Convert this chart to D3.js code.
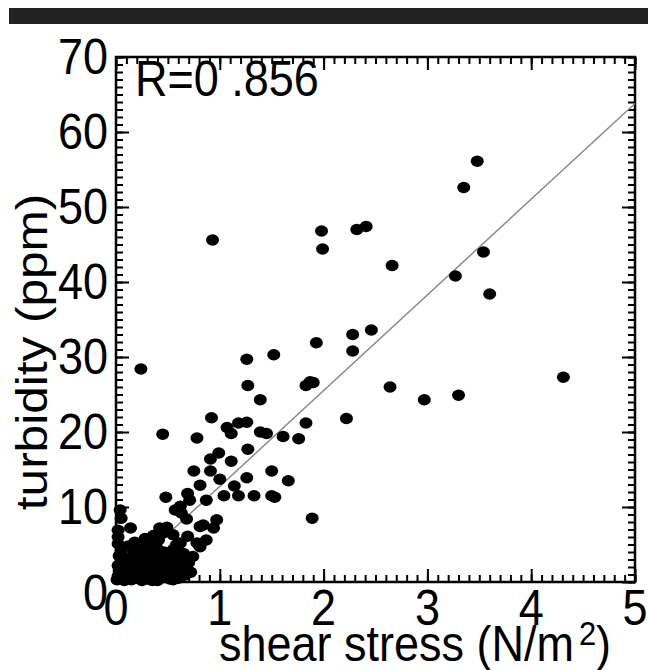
<!DOCTYPE html>
<html>
<head>
<meta charset="utf-8">
<script src="https://cdn.jsdelivr.net/npm/d3@7"></script>
<style>
  body { margin: 0; background: #fff; }
  svg text { font-family: "Liberation Sans", Arial, Helvetica, sans-serif; fill: #000; }
</style>
</head>
<body>
<div id="chart"></div>
<script>
// shear stress (N/m2) vs turbidity (ppm)
const shearStress = [
  3.48, 3.35, 2.32, 2.41, 1.98, 1.99, 0.93, 2.66, 3.54, 3.27, 3.60, 2.28, 2.28, 2.46,
  2.64, 2.97, 3.30, 4.31, 2.22, 0.24, 1.26, 1.52, 1.27, 1.39, 1.93, 1.87, 1.83, 1.90,
  0.92, 1.07, 1.11, 1.18, 1.26, 1.39, 1.45, 1.61, 1.76, 1.83, 0.45, 0.78, 1.27, 0.99,
  0.91, 1.11, 0.75, 0.91, 0.81, 1.00, 1.26, 1.50, 1.66, 1.14, 0.48, 0.69, 0.71, 0.87,
  1.04, 1.18, 1.33, 1.50, 1.53, 0.62, 0.57, 0.63, 0.68, 1.89, 0.97, 0.94, 0.81, 0.84,
  0.42, 0.49, 0.14, 0.04, 0.05, 0.02, 0.02, 0.55, 0.62, 0.69, 0.78, 0.87, 0.81, 0.74,
  0.58, 0.62,
  // dense cluster near the origin
  0.01, 0.02, 0.03, 0.02, 0.04, 0.05, 0.06, 0.03, 0.05, 0.02, 0.08, 0.09, 0.10, 0.08,
  0.11, 0.12, 0.13, 0.14, 0.15, 0.16, 0.17, 0.18, 0.19, 0.20, 0.21, 0.22, 0.23, 0.24,
  0.25, 0.26, 0.27, 0.28, 0.29, 0.30, 0.31, 0.32, 0.33, 0.34, 0.35, 0.36, 0.37, 0.38,
  0.39, 0.40, 0.41, 0.42, 0.43, 0.44, 0.45, 0.46, 0.47, 0.48, 0.49, 0.50, 0.51, 0.52,
  0.53, 0.55, 0.56, 0.58, 0.57, 0.60, 0.62, 0.63, 0.65, 0.68, 0.70, 0.18, 0.28, 0.36,
  0.45, 0.12, 0.40, 0.25, 0.55, 0.60, 0.66, 0.72, 0.52, 0.35
];
const turbidity = [
  56.1, 52.6, 47.0, 47.4, 46.8, 44.4, 45.6, 42.2, 44.0, 40.8, 38.4, 33.0, 30.8, 33.6,
  26.0, 24.3, 24.9, 27.3, 21.8, 28.4, 29.7, 30.3, 26.2, 24.3, 31.9, 26.7, 26.2, 26.6,
  21.9, 20.6, 19.8, 21.2, 21.3, 20.0, 19.8, 19.4, 19.1, 21.2, 19.7, 19.2, 17.7, 17.2,
  16.4, 16.1, 14.8, 14.8, 12.9, 13.7, 13.9, 14.8, 13.5, 12.8, 11.3, 11.8, 10.9, 10.9,
  11.5, 11.5, 11.5, 11.5, 11.3, 10.1, 9.6, 9.2, 8.4, 8.5, 8.3, 7.2, 7.4, 7.6,
  7.2, 7.3, 7.2, 9.6, 8.5, 6.9, 6.0, 6.3, 5.2, 6.1, 5.2, 5.6, 4.7, 3.4,
  2.9, 2.0,
  0.3, 0.8, 1.5, 2.2, 0.5, 1.1, 2.8, 3.5, 4.2, 5.1, 0.2, 1.0, 1.8, 2.5,
  3.2, 0.6, 1.4, 2.1, 0.3, 2.9, 4.3, 1.0, 1.7, 3.6, 0.5, 2.4, 1.2, 4.0,
  3.0, 4.7, 0.8, 1.9, 2.7, 0.4, 3.4, 1.4, 4.9, 2.2, 0.9, 3.9, 2.9, 1.6,
  0.5, 4.4, 5.6, 2.4, 3.3, 1.1, 2.0, 4.0, 0.6, 3.0, 6.9, 1.5, 2.6, 3.4,
  0.9, 4.3, 2.0, 4.9, 1.2, 3.0, 2.1, 0.8, 3.8, 1.6, 2.6, 5.3, 5.8, 6.2,
  6.5, 4.8, 0.2, 0.2, 0.3, 0.5, 0.9, 1.3, 0.4, 0.2
];
const xTicks = [0, 1, 2, 3, 4, 5];
const yTicks = [0, 10, 20, 30, 40, 50, 60, 70];
const fitSlope = 12.76;   // regression line through the origin
const rLabel = "R=0 .856";

const W = 648, H = 670;
const margin = { top: 57, right: 13, bottom: 88, left: 116 };
const width = W - margin.left - margin.right,
  height = H - margin.top - margin.bottom;
const fs = 45;          // label font size
const stretch = 1.1;    // the lettering in the figure is drawn a little tall

const root = d3.select("#chart").append("svg")
  .attr("width", W).attr("height", H);

// dark band at the top of the figure
root.append("rect")
  .attr("x", 9).attr("y", 8).attr("width", W - 9).attr("height", 16)
  .attr("fill", "#222");

const svg = root.append("g")
  .attr("transform", `translate(${margin.left},${margin.top})`);

const x = d3.scaleLinear().domain([0, 5]).range([0, width]);
const y = d3.scaleLinear().domain([0, 70]).range([height, 0]);

const minorX = d3.range(0, 5.0001, 0.1);
const minorY = d3.range(0, 70.0001, 1);

function drawAxis(gen, transform, ticks, size) {
  const g = svg.append("g")
    .attr("transform", transform)
    .call(gen.tickValues(ticks).tickSize(size).tickSizeOuter(0));
  g.select(".domain").remove();
  g.selectAll(".tick line").attr("stroke", "#000").attr("stroke-width", 2);
  g.selectAll(".tick text").remove();
  return g;
}

// ticks point inward on all four sides
drawAxis(d3.axisBottom(x), `translate(0,${height})`, minorX, -7);
drawAxis(d3.axisTop(x), "translate(0,0)", minorX, -7);
drawAxis(d3.axisLeft(y), "translate(0,0)", minorY, -7);
drawAxis(d3.axisRight(y), `translate(${width},0)`, minorY, -7);
drawAxis(d3.axisTop(x), "translate(0,0)", xTicks, -13);
drawAxis(d3.axisRight(y), `translate(${width},0)`, yTicks, -13);
drawAxis(d3.axisBottom(x), `translate(0,${height})`, xTicks, -13);
drawAxis(d3.axisLeft(y), "translate(0,0)", yTicks, -13);

// tick labels
svg.selectAll("text.xlab")
  .data(xTicks)
  .enter()
  .append("text")
  .attr("class", "xlab")
  .attr("text-anchor", "middle")
  .attr("transform", (d) => `translate(${x(d)},${height + 43}) scale(1,${stretch})`)
  .style("font-size", fs + "px")
  .text((d) => d);

svg.selectAll("text.ylab")
  .data(yTicks)
  .enter()
  .append("text")
  .attr("class", "ylab")
  .attr("text-anchor", "end")
  .attr("transform", (d) => `translate(-8,${y(d) + (d === 0 ? 28 : 17)}) scale(1,${stretch})`)
  .style("font-size", fs + "px")
  .text((d) => d);

svg.append("rect")
  .attr("width", width).attr("height", height)
  .attr("fill", "none").attr("stroke", "#000").attr("stroke-width", 2.5);

// fit line
svg.append("line")
  .attr("x1", x(0)).attr("y1", y(0))
  .attr("x2", x(5)).attr("y2", y(5 * fitSlope))
  .attr("stroke", "#8a8a8a").attr("stroke-width", 1.5);

const pts = shearStress.map((s, i) => ({ s, t: turbidity[i] }));
svg.selectAll("ellipse.pt")
  .data(pts)
  .enter()
  .append("ellipse")
  .attr("class", "pt")
  .attr("cx", (d) => x(d.s))
  .attr("cy", (d) => y(d.t))
  .attr("rx", 6.5)
  .attr("ry", 5.8)
  .attr("fill", "#000");

svg.append("text")
  .attr("transform", `translate(19,39) scale(1,${stretch})`)
  .style("font-size", fs + "px")
  .text(rLabel);

// axis titles
const xt = root.append("text")
  .attr("transform", `translate(415,661) scale(1,${stretch})`)
  .attr("text-anchor", "middle")
  .style("font-size", fs + "px");
xt.append("tspan").text("shear stress (N/m");
xt.append("tspan").attr("dx", 5).attr("dy", -15).style("font-size", "31px").text("2");
xt.append("tspan").attr("dy", 15).text(")");

root.append("text")
  .attr("transform", `translate(47,352) scale(1,${stretch}) rotate(-90)`)
  .attr("text-anchor", "middle")
  .style("font-size", fs + "px")
  .text("turbidity (ppm)");
</script>
</body>
</html>
